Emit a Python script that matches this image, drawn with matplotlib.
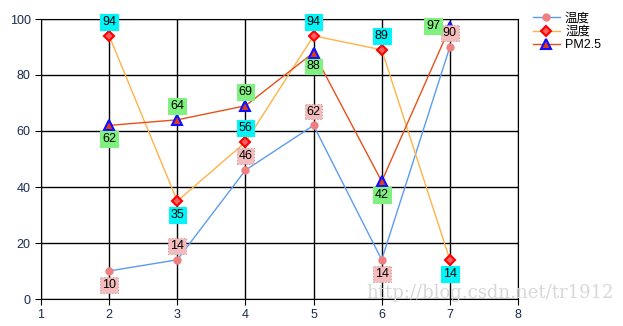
import matplotlib
matplotlib.use("Agg")
import matplotlib.pyplot as plt

plt.rcParams['font.family'] = ['Liberation Sans', 'Noto Sans CJK SC']

x = [2, 3, 4, 5, 6, 7]
temp = [10, 14, 46, 62, 14, 90]
humid = [94, 35, 56, 94, 89, 14]
pm25 = [62, 64, 69, 88, 42, 97]
names = ['温度', '湿度', 'PM2.5']

# label placement: 'a' above, 'b' below, 'l' left
temp_pos = ['b', 'a', 'a', 'a', 'b', 'a']
humid_pos = ['a', 'b', 'a', 'a', 'a', 'b']
pm_pos = ['b', 'a', 'a', 'b', 'b', 'l']

fig = plt.figure(figsize=(6.23, 3.26), dpi=100)
ax = fig.add_axes([41/623, 27/326, (518-41)/623, (299-19)/326])

ax.plot(x, temp, color='#5c9cf0', lw=1, marker='o', ms=5, mfc='#f08080', mec='#f08080', label=names[0], zorder=3)
ax.plot(x, humid, color='#ffb347', lw=1, marker='D', ms=5, mfc='#ff6060', mec='#ff0000', mew=1.5, label=names[1], zorder=3)
ax.plot(x, pm25, color='#e8501a', lw=1, marker='^', ms=7, mfc='#e04010', mec='#1010ff', mew=1.5, label=names[2], zorder=3)

def labels(vals, pos, fc, ec, ls):
    for xi, v, p in zip(x, vals, pos):
        if p == 'a':
            off = (0, 10)
        elif p == 'b':
            off = (0, -10)
        else:
            off = (-12, 1)
        ax.annotate(str(v), (xi, v), xytext=off, textcoords='offset points',
                    ha='center', va='center', fontsize=9, zorder=5,
                    bbox=dict(boxstyle='square,pad=0.15', fc=fc, ec=ec, ls=ls, lw=0.8))

labels(temp, temp_pos, '#f4bcbc', '#c0a0a0', ':')
labels(humid, humid_pos, '#00f4f8', '#00f4f8', '-')
labels(pm25, pm_pos, '#80f080', '#80f080', '-')

ax.set_xlim(1, 8)
ax.set_ylim(0, 100)
ax.set_xticks(range(1, 9))
ax.set_yticks(range(0, 101, 20))
ax.grid(True, color='black', lw=1)
ax.set_axisbelow(True)
for s in ax.spines.values():
    s.set_color('black')
ax.tick_params(labelsize=9, length=4, color='black', labelcolor='#1a2a50')

leg = ax.legend(loc='upper left', bbox_to_anchor=(1.02, 1.04), frameon=False,
                fontsize=9, handlelength=2.2, borderaxespad=0, labelspacing=0.1, handletextpad=0.4)

fig.text(0.985, 0.075, 'http://blog.csdn.net/tr1912', ha='right', va='bottom',
         fontsize=13, color='#d8d8d8', family='DejaVu Serif', zorder=10)

fig.savefig('out.png', dpi=100)
